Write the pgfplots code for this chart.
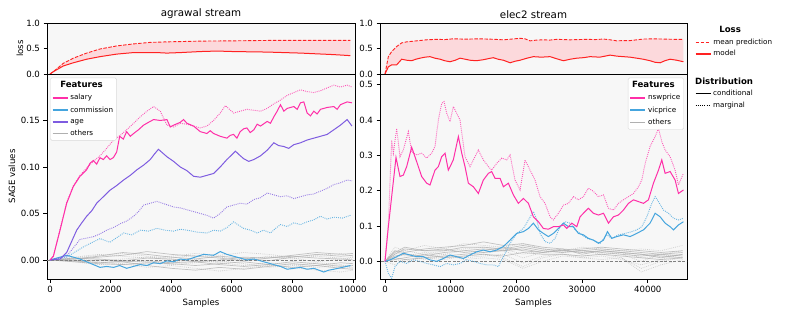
\documentclass[border=0pt]{standalone}
\usepackage{fontspec}
\setmainfont{DejaVu Sans}
\usepackage{pgfplots}
\pgfplotsset{compat=1.18}
\usepgfplotslibrary{fillbetween}
\definecolor{salcol}{HTML}{FF2FA8}
\definecolor{cblue}{HTML}{45A5DE}
\definecolor{cpurp}{HTML}{7E5CE0}
\definecolor{cgray}{HTML}{B0B0B0}
\definecolor{bgc}{HTML}{F7F7F7}
\definecolor{lred}{HTML}{FF2222}
\definecolor{lfill}{HTML}{FCD9DC}
\pgfplotsset{
  base/.style={scale only axis, anchor=south west,
    font=\fontsize{8.6}{10}\selectfont,
    /pgf/number format/assume math mode=true,
    /pgf/number format/1000 sep={},
    scaled x ticks=false, scaled y ticks=false,
    axis line style={line width=0.9pt},
    axis background/.style={fill=bgc},
    tick pos=left, tick align=outside,
    major tick length=3.5pt,
    every tick/.style={black, line width=0.7pt},
    legend style={font=\fontsize{7.2}{8.2}\selectfont, legend cell align=left,
      draw=black!15, fill=white, rounded corners=1.5pt, row sep=1.3pt, inner sep=1.5pt},
  },
  cond/.style={line width=1pt},
  marg/.style={line width=0.9pt, dash pattern=on 0.9pt off 1.1pt, opacity=0.8},
  ocond/.style={cgray, line width=0.7pt, opacity=0.75},
  omarg/.style={cgray, line width=0.7pt, dash pattern=on 0.8pt off 1.1pt, opacity=0.6},
  zline/.style={gray, line width=0.7pt, dash pattern=on 3pt off 1.5pt},
  limg/.style={legend image code/.code={\draw[#1] (0pt,0pt) -- (15pt,0pt);}},
  ttl/.style={title style={font=\fontsize{10.3}{12}\selectfont, at={(axis description cs:0.5,1)}, anchor=south, yshift=-5.5pt}},
}
\begin{document}
\begin{tikzpicture}
\path (0,0) rectangle (789pt,316pt);
% ---------------- left loss
\begin{axis}[base, ttl, at={(47pt,242pt)}, width=308pt, height=51pt,
  xmin=-100, xmax=10070, ymin=0, ymax=1,
  xtick=\empty, ytick={0,0.5,1},
  yticklabel style={/pgf/number format/fixed, /pgf/number format/fixed zerofill, /pgf/number format/precision=1},
  title={agrawal stream},
  ylabel={loss}, every axis y label/.style={at={(axis description cs:-0.088,0.5)}, rotate=90, anchor=center}]
\addplot[lred, line width=0.9pt, dash pattern=on 3.5pt off 1.5pt, name path=A] coordinates {(0,0) (110,0.046) (440,0.21) (770,0.31) (1210,0.41) (1650,0.49) (2200,0.55) (2760,0.59) (3310,0.62) (3860,0.63) (4960,0.645) (6060,0.65) (7170,0.658) (9920,0.658)};
\addplot[lred, line width=1pt, name path=B] coordinates {(0,0) (110,0.046) (440,0.158) (770,0.22) (1210,0.29) (1650,0.34) (2200,0.39) (2760,0.42) (3530,0.42) (3860,0.41) (4300,0.42) (4960,0.44) (5510,0.45) (6060,0.44) (7170,0.43) (8270,0.41) (9370,0.38) (9920,0.36)};
\addplot[lfill] fill between[of=A and B];
\end{axis}
% ---------------- left SAGE
\begin{axis}[base, at={(47pt,37pt)}, width=308pt, height=205pt,
  xmin=-100, xmax=10070, ymin=-0.0205, ymax=0.2,
  xtick={0,2000,4000,6000,8000,10000}, ytick={0,0.05,0.1,0.15},
  yticklabel style={/pgf/number format/fixed, /pgf/number format/fixed zerofill, /pgf/number format/precision=2},
  xlabel={Samples}, ylabel={SAGE values},
  every axis y label/.style={at={(axis description cs:-0.114,0.5)}, rotate=90, anchor=center},
  legend style={at={(axis description cs:0.01,0.982)}, anchor=north west}]
% others
\addplot[ocond, forget plot] coordinates {(0,0) (800,0.001) (1600,0.004) (2400,0.008) (3200,0.006) (4000,0.003) (4800,0.001) (5600,0.004) (6400,0.002) (7200,-0.001) (8000,0.003) (8800,0.006) (9600,0.004) (10000,0.005)};
\addplot[ocond, forget plot] coordinates {(0,0) (800,-0.001) (1600,-0.003) (2400,-0.002) (3200,-0.006) (4000,-0.009) (4800,-0.011) (5600,-0.008) (6400,-0.010) (7200,-0.007) (8000,-0.004) (8800,-0.006) (9600,-0.003) (10000,-0.004)};
\addplot[ocond, forget plot] coordinates {(0,0) (800,0.002) (1600,0.001) (2400,-0.001) (3200,0.002) (4000,0.001) (4800,-0.002) (5600,0.000) (6400,0.003) (7200,0.002) (8000,0.005) (8800,0.008) (9600,0.006) (10000,0.007)};
\addplot[ocond, forget plot] coordinates {(0,0) (800,-0.002) (1600,-0.004) (2400,-0.005) (3200,-0.003) (4000,-0.004) (4800,-0.006) (5600,-0.004) (6400,-0.002) (7200,-0.005) (8000,-0.008) (8800,-0.006) (9600,-0.009) (10000,-0.010)};
\addplot[ocond, forget plot] coordinates {(0,0) (800,0.001) (1600,0.003) (2400,0.005) (3200,0.009) (4000,0.006) (4800,0.004) (5600,0.002) (6400,-0.001) (7200,0.002) (8000,0.004) (8800,0.002) (9600,0.001) (10000,0.000)};
\addplot[ocond, forget plot] coordinates {(0,0) (800,-0.001) (1600,0.000) (2400,-0.002) (3200,-0.001) (4000,-0.003) (4800,-0.002) (5600,-0.005) (6400,-0.007) (7200,-0.005) (8000,-0.002) (8800,-0.004) (9600,-0.007) (10000,-0.006)};
\addplot[omarg, forget plot] coordinates {(0,0) (800,0.002) (1600,0.005) (2400,0.007) (3200,0.004) (4000,0.002) (4800,0.005) (5600,0.003) (6400,0.000) (7200,0.004) (8000,0.002) (8800,-0.002) (9600,0.001) (10000,0.003)};
\addplot[omarg, forget plot] coordinates {(0,0) (800,-0.002) (1600,-0.005) (2400,-0.004) (3200,-0.008) (4000,-0.006) (4800,-0.009) (5600,-0.012) (6400,-0.009) (7200,-0.006) (8000,-0.008) (8800,-0.011) (9600,-0.013) (10000,-0.011)};
\addplot[omarg, forget plot] coordinates {(0,0) (800,0.001) (1600,-0.001) (2400,0.001) (3200,0.003) (4000,0.000) (4800,0.001) (5600,-0.002) (6400,0.001) (7200,0.003) (8000,0.001) (8800,0.004) (9600,0.002) (10000,0.001)};
\addplot[omarg, forget plot] coordinates {(0,0) (800,-0.001) (1600,-0.003) (2400,-0.001) (3200,-0.002) (4000,-0.005) (4800,-0.003) (5600,-0.001) (6400,-0.004) (7200,-0.008) (8000,-0.006) (8800,-0.003) (9600,-0.005) (10000,-0.008)};
\addplot[omarg, forget plot] coordinates {(0,0) (800,0.003) (1600,0.006) (2400,0.004) (3200,0.002) (4000,0.004) (4800,0.007) (5600,0.005) (6400,0.008) (7200,0.006) (8000,0.003) (8800,0.005) (9600,0.007) (10000,0.004)};
\addplot[omarg, forget plot] coordinates {(0,0) (800,0.000) (1600,-0.002) (2400,-0.005) (3200,-0.004) (4000,-0.002) (4800,0.000) (5600,-0.003) (6400,-0.006) (7200,-0.003) (8000,-0.005) (8800,-0.008) (9600,-0.006) (10000,-0.009)};
\addplot[zline, forget plot] coordinates {(-1000,0) (11000,0)};
% commission
\addplot[cblue, marg, forget plot] coordinates {(0,0) (550,0.003) (1100,0.014) (1650,0.023) (1980,0.019) (2430,0.029) (2700,0.027) (2980,0.032) (3250,0.031) (3530,0.034) (3800,0.032) (4080,0.031) (4300,0.033) (4520,0.032) (4850,0.030) (5180,0.029) (5400,0.032) (5620,0.031) (5850,0.035) (6060,0.041) (6390,0.034) (6620,0.032) (6840,0.029) (7050,0.032) (7280,0.029) (7450,0.034) (7610,0.038) (7830,0.036) (8050,0.040) (8270,0.038) (8490,0.041) (8700,0.043) (8930,0.047) (9150,0.044) (9370,0.046) (9650,0.045) (9920,0.048)};
\addplot[cblue, cond, forget plot] coordinates {(0,0) (550,0.005) (990,0.001) (1430,-0.005) (1650,-0.008) (1870,-0.007) (2100,-0.008) (2300,-0.006) (2530,-0.009) (2750,-0.007) (2980,-0.005) (3200,-0.006) (3420,-0.003) (3640,-0.004) (3860,-0.001) (4080,-0.002) (4300,0.001) (4520,0.000) (4740,0.0025) (5070,0.006) (5400,0.005) (5620,0.009) (5840,0.006) (6060,0.004) (6280,0.002) (6500,0) (6730,0.001) (6950,-0.001) (7170,-0.003) (7390,-0.005) (7610,-0.007) (7830,-0.010) (8050,-0.009) (8270,-0.008) (8490,-0.010) (8710,-0.009) (9040,-0.013) (9200,-0.011) (9370,-0.010) (9650,-0.008) (9920,-0.006)};
% age
\addplot[cpurp, marg, forget plot] coordinates {(0,0) (550,0.004) (990,0.022) (1430,0.025) (1650,0.028) (1870,0.032) (2100,0.035) (2320,0.039) (2540,0.042) (2760,0.047) (2920,0.052) (3090,0.059) (3310,0.061) (3530,0.063) (3800,0.060) (4080,0.057) (4300,0.056) (4520,0.054) (4740,0.052) (4960,0.050) (5180,0.048) (5400,0.045) (5620,0.050) (5840,0.057) (6060,0.059) (6280,0.061) (6500,0.060) (6730,0.065) (6950,0.067) (7170,0.072) (7390,0.070) (7610,0.068) (7830,0.069) (8050,0.066) (8270,0.068) (8490,0.070) (8710,0.071) (8930,0.074) (9150,0.077) (9370,0.081) (9590,0.083) (9810,0.086) (9970,0.085)};
\addplot[cpurp, cond, forget plot] coordinates {(0,0) (330,0.001) (550,0.008) (880,0.032) (1050,0.040) (1210,0.047) (1380,0.053) (1540,0.061) (1760,0.068) (1980,0.075) (2200,0.080) (2430,0.086) (2650,0.091) (2870,0.097) (3090,0.102) (3310,0.108) (3450,0.114) (3580,0.119) (3720,0.115) (3860,0.111) (4080,0.106) (4300,0.100) (4520,0.096) (4740,0.090) (4960,0.089) (5180,0.091) (5400,0.093) (5620,0.100) (5840,0.108) (6000,0.113) (6120,0.117) (6250,0.113) (6390,0.109) (6560,0.106) (6730,0.108) (6950,0.112) (7170,0.118) (7390,0.126) (7550,0.123) (7720,0.122) (7880,0.120) (8050,0.124) (8270,0.126) (8490,0.129) (8710,0.131) (8930,0.133) (9150,0.135) (9370,0.140) (9590,0.145) (9810,0.151) (9970,0.144)};
% salary
\addplot[salcol, marg, forget plot] coordinates {(0,0) (110,0.004) (330,0.033) (550,0.062) (770,0.080) (990,0.091) (1210,0.099) (1430,0.106) (1650,0.112) (1870,0.120) (2100,0.129) (2320,0.134) (2530,0.140) (2760,0.147) (2980,0.154) (3200,0.160) (3420,0.165) (3640,0.160) (3860,0.145) (4080,0.143) (4300,0.147) (4520,0.146) (4740,0.144) (4960,0.142) (5180,0.144) (5400,0.150) (5620,0.158) (5790,0.166) (6060,0.158) (6280,0.160) (6500,0.162) (6730,0.161) (6950,0.160) (7170,0.163) (7390,0.168) (7610,0.172) (7830,0.177) (8050,0.180) (8270,0.183) (8490,0.181) (8710,0.180) (8930,0.182) (9150,0.185) (9370,0.188) (9590,0.186) (9810,0.188) (9970,0.186)};
\addplot[salcol, cond, forget plot] coordinates {(0,0) (110,0.004) (330,0.032) (550,0.061) (770,0.079) (990,0.090) (1210,0.097) (1320,0.104) (1430,0.107) (1540,0.103) (1650,0.110) (1760,0.108) (1870,0.112) (1980,0.108) (2090,0.110) (2200,0.116) (2300,0.133) (2420,0.130) (2530,0.138) (2650,0.133) (2760,0.136) (2920,0.140) (3090,0.145) (3250,0.148) (3420,0.151) (3640,0.150) (3860,0.151) (3970,0.143) (4080,0.145) (4300,0.148) (4410,0.151) (4520,0.147) (4740,0.144) (4850,0.141) (4960,0.138) (5180,0.136) (5290,0.139) (5400,0.136) (5620,0.133) (5840,0.131) (5950,0.134) (6060,0.135) (6170,0.131) (6280,0.138) (6390,0.141) (6500,0.142) (6610,0.137) (6730,0.140) (6840,0.146) (6950,0.144) (7170,0.149) (7280,0.147) (7390,0.154) (7500,0.160) (7610,0.167) (7720,0.160) (7830,0.163) (8050,0.165) (8160,0.162) (8270,0.169) (8380,0.170) (8490,0.158) (8600,0.155) (8710,0.160) (8820,0.157) (8930,0.162) (9150,0.164) (9370,0.165) (9480,0.162) (9590,0.167) (9810,0.170) (9970,0.169)};
\addlegendimage{empty legend}\addlegendentry{\hspace*{-10pt}\fontsize{8.6}{10}\selectfont\bfseries Features}
\addlegendimage{limg={draw=salcol, line width=1.5pt}}\addlegendentry{salary}
\addlegendimage{limg={draw=cblue, line width=1.5pt}}\addlegendentry{commission}
\addlegendimage{limg={draw=cpurp, line width=1.5pt}}\addlegendentry{age}
\addlegendimage{limg={draw=cgray, line width=1.5pt}}\addlegendentry{others}
\end{axis}
% ---------------- right loss
\begin{axis}[base, ttl, at={(380pt,242pt)}, width=307pt, height=51pt,
  xmin=-760, xmax=45970, ymin=0, ymax=1,
  xtick=\empty, ytick={0,0.5,1},
  yticklabel style={/pgf/number format/fixed, /pgf/number format/fixed zerofill, /pgf/number format/precision=1},
  title={elec2 stream},
  legend style={at={(axis description cs:1.02,1.0)}, anchor=north west, draw=none, fill=none, row sep=0.5pt}]
\addplot[lred, line width=0.9pt, dash pattern=on 3.5pt off 1.5pt, name path=C, forget plot] coordinates {(0,0) (510,0.34) (1015,0.44) (1780,0.54) (2540,0.61) (3300,0.63) (4820,0.65) (6300,0.67) (7870,0.68) (9100,0.675) (10400,0.69) (11700,0.685) (12940,0.685) (14200,0.69) (15480,0.685) (16700,0.68) (18020,0.67) (19300,0.685) (20560,0.70) (21300,0.69) (22080,0.65) (23100,0.665) (24110,0.67) (25100,0.665) (26140,0.68) (27200,0.675) (28170,0.67) (29500,0.675) (30710,0.68) (32000,0.675) (33250,0.685) (34300,0.67) (35280,0.65) (36300,0.655) (37310,0.655) (38300,0.67) (39340,0.685) (40800,0.69) (42390,0.685) (44000,0.68) (45430,0.68)};
\addplot[lred, line width=1pt, name path=D, forget plot] coordinates {(0,0) (510,0.14) (1015,0.18) (1780,0.18) (2540,0.29) (3300,0.27) (4060,0.26) (4700,0.29) (5330,0.31) (6100,0.33) (6850,0.34) (7600,0.31) (8380,0.29) (9100,0.26) (9900,0.24) (10700,0.27) (11420,0.31) (12200,0.29) (12940,0.27) (13900,0.26) (14970,0.28) (15700,0.30) (16490,0.32) (17200,0.29) (18020,0.27) (19040,0.22) (19800,0.25) (20560,0.27) (21600,0.31) (22590,0.34) (23800,0.33) (25130,0.34) (26100,0.30) (27160,0.26) (28200,0.29) (29190,0.31) (30200,0.32) (31220,0.34) (32700,0.33) (34270,0.37) (35300,0.35) (36290,0.34) (37300,0.33) (38320,0.31) (39300,0.29) (40350,0.26) (41100,0.23) (41880,0.22) (42600,0.26) (43400,0.29) (44400,0.27) (45430,0.24)};
\addplot[lfill, forget plot] fill between[of=C and D];
\addlegendimage{empty legend}\addlegendentry{\hspace*{6pt}\fontsize{8.6}{10}\selectfont\bfseries Loss}
\addlegendimage{limg={draw=lred, line width=1.3pt, dash pattern=on 3.5pt off 1.5pt}}\addlegendentry{mean prediction}
\addlegendimage{limg={draw=lred, line width=1.5pt}}\addlegendentry{model}
\end{axis}
% ---------------- right SAGE
\begin{axis}[base, at={(380pt,37pt)}, width=307pt, height=205pt,
  xmin=-760, xmax=45970, ymin=-0.05, ymax=0.53,
  xtick={0,10000,20000,30000,40000}, ytick={0,0.1,0.2,0.3,0.4,0.5},
  yticklabel style={/pgf/number format/fixed, /pgf/number format/fixed zerofill, /pgf/number format/precision=1},
  xlabel={Samples},
  legend style={at={(axis description cs:0.99,0.982)}, anchor=north east}]
\addplot[ocond, forget plot] coordinates {(0,0) (1500,0.03) (3000,0.025) (6000,0.035) (9000,0.04) (12000,0.045) (15000,0.055) (18000,0.045) (21000,0.05) (24000,0.04) (27000,0.035) (30000,0.03) (33000,0.035) (36000,0.03) (39000,0.025) (42000,0.02) (45300,0.025)};
\addplot[ocond, forget plot] coordinates {(0,0) (1500,0.015) (3000,0.02) (6000,0.015) (9000,0.025) (12000,0.03) (15000,0.035) (18000,0.03) (21000,0.04) (24000,0.03) (27000,0.025) (30000,0.03) (33000,0.025) (36000,0.02) (39000,0.015) (42000,0.02) (45300,0.015)};
\addplot[ocond, forget plot] coordinates {(0,0) (1500,0.01) (3000,0.005) (6000,0.01) (9000,0.015) (12000,0.02) (15000,0.025) (18000,0.03) (21000,0.035) (24000,0.025) (27000,0.03) (30000,0.025) (33000,0.03) (36000,0.025) (39000,0.02) (42000,0.01) (45300,0.02)};
\addplot[ocond, forget plot] coordinates {(0,0) (1500,0.02) (3000,0.035) (6000,0.03) (9000,0.03) (12000,0.04) (15000,0.04) (18000,0.035) (21000,0.045) (24000,0.035) (27000,0.03) (30000,0.035) (33000,0.04) (36000,0.035) (39000,0.03) (42000,0.025) (45300,0.03)};
\addplot[ocond, forget plot] coordinates {(0,0) (1500,0.005) (3000,0.01) (6000,0.02) (9000,0.01) (12000,0.015) (15000,0.02) (18000,0.015) (21000,0.025) (24000,0.02) (27000,0.02) (30000,0.015) (33000,0.02) (36000,0.015) (39000,0.01) (42000,0.005) (45300,0.01)};
\addplot[ocond, forget plot] coordinates {(0,0) (1500,0.025) (3000,0.04) (6000,0.03) (9000,0.035) (12000,0.025) (15000,0.03) (18000,0.04) (21000,0.03) (24000,0.025) (27000,0.035) (30000,0.02) (33000,0.03) (36000,0.025) (39000,0.02) (42000,0.015) (45300,0.01)};
\addplot[omarg, forget plot] coordinates {(0,0) (1500,0.02) (3000,0.03) (6000,0.02) (9000,0.03) (12000,0.035) (15000,0.04) (18000,0.03) (21000,0.01) (24000,0.025) (27000,0.03) (30000,0.025) (33000,0.03) (36000,0.02) (39000,0.0) (42000,0.02) (45300,0.03)};
\addplot[omarg, forget plot] coordinates {(0,0) (1500,-0.01) (3000,0.005) (6000,0.01) (9000,0.005) (12000,0.015) (15000,0.02) (18000,0.01) (21000,-0.015) (24000,0.01) (27000,0.02) (30000,0.015) (33000,0.02) (36000,0.01) (39000,-0.02) (42000,0.0) (45300,0.01)};
\addplot[omarg, forget plot] coordinates {(0,0) (1500,0.04) (3000,0.03) (6000,0.045) (9000,0.035) (12000,0.05) (15000,0.045) (18000,0.04) (21000,0.05) (24000,0.035) (27000,0.03) (30000,0.04) (33000,0.035) (36000,0.03) (39000,0.035) (42000,0.03) (45300,0.045)};
\addplot[omarg, forget plot] coordinates {(0,0) (1500,0.01) (3000,0.02) (6000,0.005) (9000,0.015) (12000,0.01) (15000,0.015) (18000,0.02) (21000,-0.005) (24000,0.015) (27000,0.02) (30000,0.01) (33000,0.015) (36000,0.005) (39000,-0.01) (42000,0.005) (45300,0.02)};
\addplot[omarg, forget plot] coordinates {(0,0) (1500,0.03) (3000,0.015) (6000,0.025) (9000,0.02) (12000,0.03) (15000,0.025) (18000,0.035) (21000,0.02) (24000,0.03) (27000,0.025) (30000,0.03) (33000,0.02) (36000,0.025) (39000,0.01) (42000,0.015) (45300,0.02)};
\addplot[omarg, forget plot] coordinates {(0,0) (1500,0.005) (3000,0.0) (6000,0.01) (9000,0.02) (12000,0.005) (15000,0.01) (18000,0.005) (21000,-0.02) (24000,0.0) (27000,0.015) (30000,0.01) (33000,0.005) (36000,0.01) (39000,-0.03) (42000,-0.01) (45300,0.005)};
\addplot[zline, forget plot] coordinates {(-2000,0) (48000,0)};
% vicprice
\addplot[cblue, marg, forget plot] coordinates {(0,0) (510,-0.034) (1015,-0.048) (1520,-0.015) (2280,0) (3300,-0.006) (4310,0.004) (5330,0) (6350,-0.006) (7360,-0.01) (8380,-0.015) (9390,-0.006) (10400,-0.01) (11420,-0.006) (12430,0.004) (13450,0) (14460,-0.006) (15480,-0.01) (16490,-0.01) (17260,-0.015) (18020,0.013) (19040,0.051) (20050,0.079) (21070,0.093) (21830,0.117) (22590,0.141) (23100,0.117) (23600,0.079) (24360,0.056) (25130,0.051) (25890,0.065) (26650,0.098) (27410,0.112) (28170,0.108) (28940,0.089) (29690,0.079) (30710,0.065) (31720,0.06) (32740,0.051) (33760,0.075) (34520,0.065) (35530,0.075) (36540,0.079) (37560,0.084) (38320,0.089) (39090,0.098) (39850,0.126) (40610,0.164) (41120,0.183) (41630,0.169) (42390,0.145) (43150,0.136) (43910,0.122) (44670,0.117) (45430,0.122)};
\addplot[cblue, cond, forget plot] coordinates {(0,0) (760,0.004) (1780,0.013) (2790,0.023) (3800,0.018) (4820,0.013) (5840,0.013) (6850,0.004) (7870,0) (8880,0.008) (9900,0.018) (10910,0.013) (11930,0.008) (12940,0.018) (13960,0.027) (14970,0.032) (15990,0.027) (17000,0.032) (18020,0.042) (19040,0.06) (20050,0.079) (21070,0.084) (21830,0.093) (22590,0.108) (23350,0.089) (24110,0.079) (24870,0.07) (25630,0.079) (26400,0.093) (27160,0.108) (27920,0.098) (28680,0.098) (29440,0.079) (30200,0.075) (30960,0.065) (31720,0.06) (32490,0.051) (33250,0.06) (33860,0.084) (34520,0.065) (35280,0.07) (36290,0.075) (37310,0.07) (38320,0.079) (39340,0.089) (40350,0.108) (41120,0.136) (41880,0.126) (42640,0.108) (43400,0.098) (43910,0.089) (44670,0.103) (45430,0.112)};
% nswprice
\addplot[salcol, marg, forget plot] coordinates {(0,0) (510,0.107) (1015,0.343) (1270,0.306) (1780,0.376) (2280,0.296) (2790,0.315) (3550,0.367) (4060,0.31) (4820,0.301) (5580,0.306) (6350,0.292) (7110,0.306) (7610,0.325) (8120,0.40) (8630,0.447) (8990,0.452) (9390,0.419) (9900,0.395) (10400,0.438) (10910,0.419) (11420,0.40) (12180,0.296) (12940,0.268) (13700,0.296) (14210,0.315) (14970,0.287) (15740,0.268) (16240,0.258) (17000,0.277) (17770,0.292) (18530,0.287) (19040,0.301) (19790,0.23) (20560,0.202) (21320,0.287) (22080,0.258) (22840,0.23) (23600,0.183) (24360,0.164) (25130,0.126) (25630,0.117) (26400,0.136) (27160,0.159) (27920,0.164) (28680,0.183) (29440,0.174) (30200,0.183) (30960,0.207) (31720,0.198) (32490,0.183) (33250,0.188) (34010,0.15) (34770,0.145) (35530,0.164) (36290,0.174) (37060,0.183) (37820,0.192) (38580,0.211) (39090,0.23) (39600,0.277) (40350,0.325) (41120,0.353) (41630,0.376) (42130,0.339) (42640,0.315) (43400,0.296) (44160,0.258) (44670,0.216) (45430,0.249)};
\addplot[salcol, cond, forget plot] coordinates {(0,0) (510,0.098) (1015,0.183) (1675,0.294) (2280,0.24) (2790,0.244) (3300,0.268) (4060,0.323) (4820,0.282) (5580,0.24) (6350,0.221) (6850,0.216) (7610,0.258) (8120,0.268) (8630,0.296) (9140,0.306) (9640,0.258) (10400,0.287) (11170,0.353) (11680,0.306) (12180,0.268) (12690,0.221) (13450,0.211) (14210,0.192) (14970,0.23) (15740,0.249) (16240,0.254) (16750,0.235) (17510,0.235) (18020,0.211) (18780,0.221) (19540,0.188) (20300,0.164) (21070,0.178) (21830,0.164) (22590,0.126) (23350,0.112) (24110,0.093) (24870,0.091) (25630,0.098) (26400,0.098) (27160,0.103) (27660,0.093) (28430,0.108) (29190,0.098) (29690,0.126) (30460,0.141) (30960,0.15) (31720,0.136) (32490,0.131) (33250,0.136) (34010,0.108) (34770,0.126) (35530,0.131) (36290,0.145) (37060,0.164) (37820,0.174) (38580,0.169) (39340,0.164) (40100,0.174) (40860,0.221) (41630,0.258) (42130,0.287) (42640,0.249) (43400,0.254) (44160,0.23) (44670,0.192) (45430,0.202)};
\addlegendimage{empty legend}\addlegendentry{\hspace*{-16pt}\fontsize{8.6}{10}\selectfont\bfseries Features}
\addlegendimage{limg={draw=salcol, line width=1.5pt}}\addlegendentry{nswprice}
\addlegendimage{limg={draw=cblue, line width=1.5pt}}\addlegendentry{vicprice}
\addlegendimage{limg={draw=cgray, line width=1.5pt}}\addlegendentry{others}
\end{axis}
% ---------------- Distribution legend (hidden axis)
\begin{axis}[base, at={(380pt,37pt)}, width=307pt, height=205pt, hide axis,
  axis background/.style={}, xmin=0, xmax=1, ymin=0, ymax=1,
  legend style={at={(axis description cs:1.02,1.0)}, anchor=north west, draw=none, fill=none, row sep=0.5pt}]
\addlegendimage{empty legend}\addlegendentry{\hspace*{-18pt}\fontsize{8.6}{10}\selectfont\bfseries Distribution}
\addlegendimage{limg={draw=black, line width=1.3pt}}\addlegendentry{conditional}
\addlegendimage{limg={draw=black, line width=1.3pt, dash pattern=on 1pt off 1.2pt}}\addlegendentry{marginal}
\end{axis}
\end{tikzpicture}
\end{document}
